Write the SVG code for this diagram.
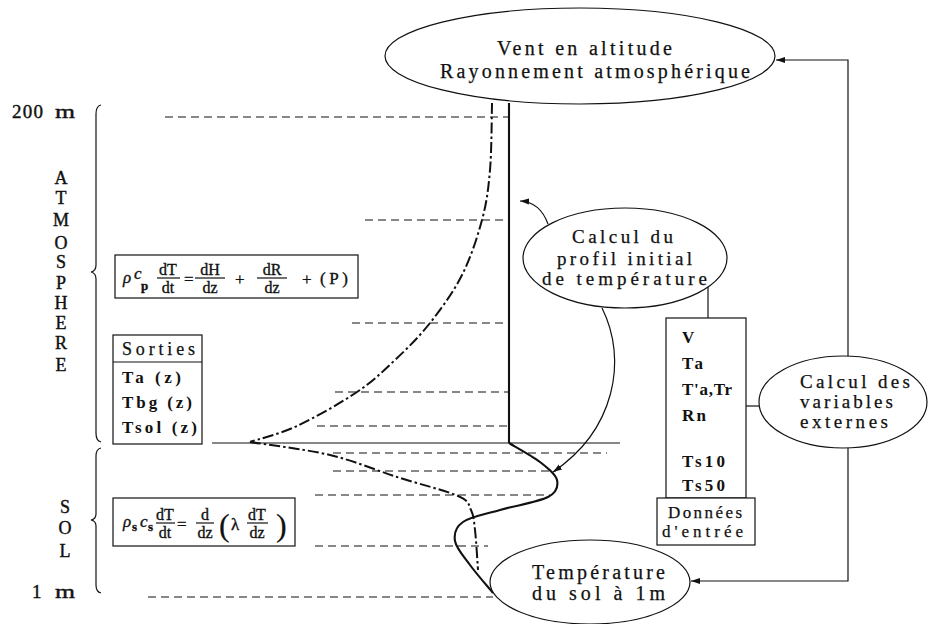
<svg xmlns="http://www.w3.org/2000/svg" width="928" height="624" viewBox="0 0 928 624">
<style>
.ln{fill:none;stroke:#111;stroke-width:1.2}
.box{fill:#fff;stroke:#111;stroke-width:1.2}
.ell{fill:#fff;stroke:#111;stroke-width:1.2}
.dash{fill:none;stroke:#111;stroke-width:1.1;stroke-dasharray:8,5}
.dd{fill:none;stroke:#111;stroke-width:2;stroke-dasharray:11,3,2.5,3}
.thick{fill:none;stroke:#111;stroke-width:2.1}
.tw{font-family:"Liberation Serif","DejaVu Serif",serif;fill:#111;stroke:#111;stroke-width:0.25}
.tb{font-family:"Liberation Serif","DejaVu Serif",serif;font-weight:bold;fill:#111}
.ser{font-family:"Liberation Serif","DejaVu Serif",serif;fill:#111;stroke:#111;stroke-width:0.4}
.eq{font-family:"Liberation Serif","DejaVu Serif",serif;fill:#111;stroke:#111;stroke-width:0.35}
</style>
<defs>
<marker id="ah" markerWidth="10" markerHeight="8" refX="9" refY="4" orient="auto" markerUnits="userSpaceOnUse">
<path d="M0,1 L9,4 L0,7 Z" fill="#111"/>
</marker>
</defs>
<rect width="928" height="624" fill="#fff"/>

<!-- left labels and braces -->
<g id="labels">
<text class="ser" x="12" y="118" font-size="19" textLength="31">200</text>
<text class="ser" x="55" y="118" font-size="19" textLength="20" lengthAdjust="spacingAndGlyphs">m</text>
<text class="ser" x="32" y="598" font-size="19">1</text>
<text class="ser" x="55" y="598" font-size="19" textLength="20" lengthAdjust="spacingAndGlyphs">m</text>
<g class="ser" font-size="18" text-anchor="middle">
<text x="61" y="184">A</text>
<text x="61" y="204">T</text>
<text x="61" y="226">M</text>
<text x="61" y="249">O</text>
<text x="61" y="268">S</text>
<text x="61" y="289">P</text>
<text x="61" y="309">H</text>
<text x="61" y="329">E</text>
<text x="61" y="349">R</text>
<text x="61" y="371">E</text>
<text x="65" y="513">S</text>
<text x="65" y="534">O</text>
<text x="65" y="557">L</text>
</g>
<path class="ln" d="M101,105 Q96,106 96,114 L96,265 Q96,271 91,272 Q96,273 96,279 L96,433 Q96,441 101,442"/>
<path class="ln" d="M101,448 Q96,449 96,456 L96,514 Q96,519 91,520 Q96,521 96,526 L96,585 Q96,592 101,593"/>
</g>

<!-- level lines -->
<g id="levels">
<path class="dash" d="M165,117 H510"/>
<path class="dash" d="M365,220 H509"/>
<path class="dash" d="M352,323 H508"/>
<path class="dash" d="M335,392 H509"/>
<path class="dash" d="M317,426 H509"/>
<path class="ln" d="M212,443 H620"/>
<path class="dash" d="M333,453 H607"/>
<path class="dash" d="M333,471 H556"/>
<path class="dash" d="M315,495 H550"/>
<path class="dash" d="M315,546 H488"/>
<path class="dash" d="M148,597 H493"/>
</g>

<!-- temperature profiles -->
<g id="profiles">
<path class="dd" d="M492,103 C491.7,114.2 491.7,150.5 490,170 C488.3,189.5 486.7,202.5 482,220 C477.3,237.5 470.7,257.8 462,275 C453.3,292.2 441.2,308.8 430,323 C418.8,337.2 407.2,348.5 395,360 C382.8,371.5 373.3,381 357,392 C340.7,403 314.8,417.7 297,426 C279.2,434.3 257.8,439.3 250,442"/>
<path class="dd" d="M250,442 C263.3,444.2 305.5,449.2 330,455 C354.5,460.8 375.7,470.2 397,477 C418.3,483.8 445.7,490.5 458,496 C470.3,501.5 468.2,504.3 471,510 C473.8,515.7 473.8,520 475,530 C476.2,540 477.5,563.3 478,570"/>
<path class="thick" d="M509,103 V443"/>
<path class="thick" d="M509,443 C514.2,446.2 532,455.8 540,462 C548,468.2 555.7,474.2 557,480 C558.3,485.8 557.5,492 548,497 C538.5,502 514.2,505.8 500,510 C485.8,514.2 470.5,516.8 463,522 C455.5,527.2 453.8,533.8 455,541 C456.2,548.2 463.7,556.3 470,565 C476.3,573.7 489.2,588.3 493,593"/>
</g>

<!-- equations -->
<g id="eq-atm" class="eq" font-size="16">
<rect class="box" x="115" y="255" width="243" height="43"/>
<text x="123" y="283" font-size="17" font-style="italic">ρ</text>
<text x="134" y="279" font-size="17" font-style="italic">c</text>
<text x="141" y="290" font-size="13" font-weight="bold">p</text>
<text x="168" y="275" text-anchor="middle">dT</text>
<path class="ln" d="M157,278 H180" stroke-width="1"/>
<text x="168" y="293" text-anchor="middle">dt</text>
<text x="184" y="285" font-size="17">=</text>
<text x="210" y="275" text-anchor="middle">dH</text>
<path class="ln" d="M195,278 H225" stroke-width="1"/>
<text x="210" y="293" text-anchor="middle">dz</text>
<text x="235" y="285" font-size="17">+</text>
<text x="272" y="275" text-anchor="middle">dR</text>
<path class="ln" d="M257,278 H287" stroke-width="1"/>
<text x="272" y="293" text-anchor="middle">dz</text>
<text x="302" y="285" font-size="17">+</text>
<text x="320" y="284" font-size="17" textLength="28">(P)</text>
</g>

<g id="eq-sol" class="eq" font-size="16">
<rect class="box" x="113" y="498" width="182" height="48"/>
<text x="123" y="527" font-size="17" font-style="italic">ρ</text>
<text x="132" y="531" font-size="13" font-weight="bold">s</text>
<text x="140" y="527" font-size="17" font-style="italic">c</text>
<text x="148" y="531" font-size="13" font-weight="bold">s</text>
<text x="165" y="520" text-anchor="middle">dT</text>
<path class="ln" d="M156,523 H175" stroke-width="1"/>
<text x="165" y="538" text-anchor="middle">dt</text>
<text x="177" y="530" font-size="17">=</text>
<text x="205" y="520" text-anchor="middle">d</text>
<path class="ln" d="M196,523 H214" stroke-width="1"/>
<text x="205" y="538" text-anchor="middle">dz</text>
<text x="219" y="536" font-size="32" stroke-width="0.2">(</text>
<text x="231" y="530" font-size="17">λ</text>
<text x="257" y="520" text-anchor="middle">dT</text>
<path class="ln" d="M247,523 H268" stroke-width="1"/>
<text x="257" y="538" text-anchor="middle">dz</text>
<text x="276" y="536" font-size="32" stroke-width="0.2">)</text>
</g>

<!-- outputs -->
<g id="sorties">
<rect class="box" x="113" y="335" width="89" height="109"/>
<path class="ln" d="M113,362 H202"/>
<text class="tw" x="122" y="355" font-size="18" textLength="73">Sorties</text>
<text class="tb" x="122" y="383" font-size="17" textLength="59">Ta (z)</text>
<text class="tb" x="122" y="408" font-size="17" textLength="70">Tbg (z)</text>
<text class="tb" x="122" y="433" font-size="17" textLength="75">Tsol (z)</text>
</g>

<!-- ellipses -->
<g id="vent">
<ellipse class="ell" cx="580" cy="56" rx="195" ry="48"/>
<text class="tw" x="497" y="55" font-size="20" textLength="175">Vent en altitude</text>
<text class="tw" x="440" y="78" font-size="20" textLength="310">Rayonnement atmosphérique</text>
</g>

<g id="calcul-profil">
<ellipse class="ell" cx="625" cy="258" rx="102" ry="50"/>
<text class="tw" x="572" y="243" font-size="19" textLength="101">Calcul du</text>
<text class="tw" x="557" y="265" font-size="19" textLength="135">profil initial</text>
<text class="tw" x="542" y="285" font-size="19" textLength="165">de température</text>
</g>

<g id="calcul-externes">
<ellipse class="ell" cx="843" cy="402" rx="84" ry="46"/>
<text class="tw" x="800" y="388" font-size="19" textLength="110">Calcul des</text>
<text class="tw" x="800" y="408" font-size="19" textLength="93">variables</text>
<text class="tw" x="800" y="428" font-size="19" textLength="88">externes</text>
</g>

<g id="temp-sol">
<ellipse class="ell" cx="590" cy="582" rx="100" ry="42"/>
<text class="tw" x="532" y="579" font-size="20" textLength="133">Température</text>
<text class="tw" x="532" y="600" font-size="20" textLength="133">du sol à 1m</text>
</g>

<!-- inputs -->
<g id="entrees">
<rect class="box" x="666" y="318" width="80" height="180"/>
<g class="tb" font-size="17">
<text x="682" y="343">V</text>
<text x="682" y="369" textLength="21">Ta</text>
<text x="682" y="395" textLength="50">T'a,Tr</text>
<text x="682" y="421" textLength="24">Rn</text>
<text x="682" y="467" textLength="43">Ts10</text>
<text x="682" y="491" textLength="43">Ts50</text>
</g>
</g>
<g id="donnees">
<rect class="box" x="657" y="498" width="98" height="47"/>
<text class="tw" x="668" y="518" font-size="17" textLength="74">Données</text>
<text class="tw" x="662" y="537" font-size="17" textLength="81">d'entrée</text>
</g>

<!-- connectors -->
<g id="connectors">
<path class="ln" d="M848,356 V60 H776" marker-end="url(#ah)"/>
<path class="ln" d="M848,448 V581 H691" marker-end="url(#ah)"/>
<path class="ln" d="M746,406 H759"/>
<path class="ln" d="M708,287 V318"/>
<path class="ln" d="M548,224 Q540,202 520,201" marker-end="url(#ah)"/>
<path class="ln" d="M602,308 C628,360 615,430 553,472" marker-end="url(#ah)"/>
</g>
</svg>
